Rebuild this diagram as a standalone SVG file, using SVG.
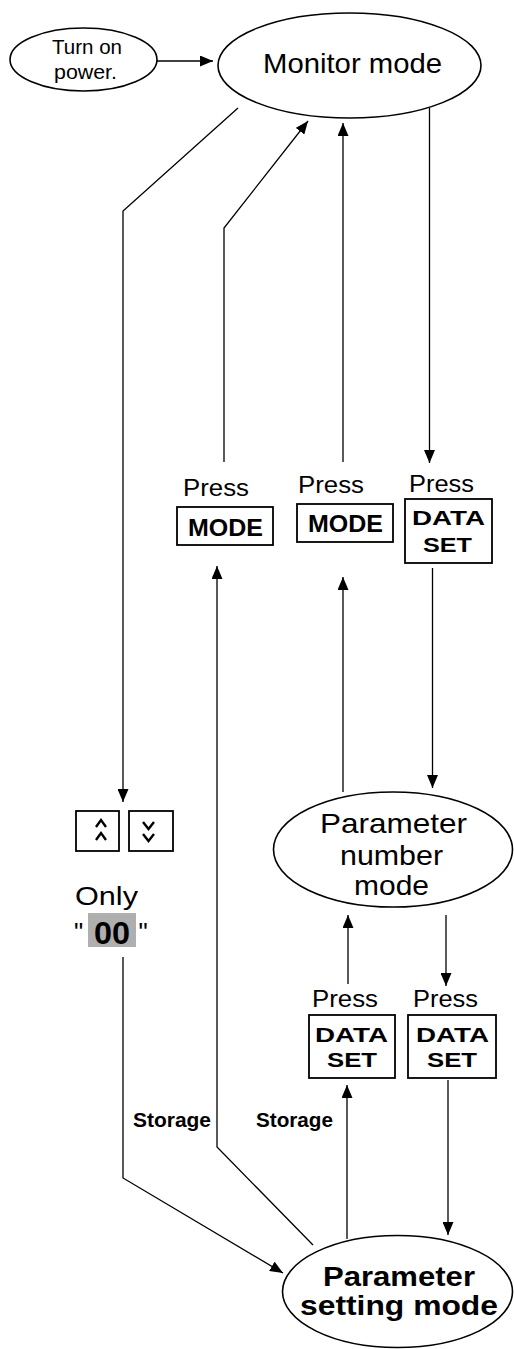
<svg xmlns="http://www.w3.org/2000/svg" width="514" height="1349" viewBox="0 0 514 1349">
<defs>
<marker id="ah" markerUnits="userSpaceOnUse" markerWidth="13" markerHeight="11" refX="13" refY="5.5" orient="auto">
<path d="M0,0 L13,5.5 L0,11 z" fill="#000"/>
</marker>
<style>
.n{fill:#fff;stroke:#000;stroke-width:1.6}
.b{fill:#fff;stroke:#000;stroke-width:1.8}
.c{fill:none;stroke:#000;stroke-width:1.3}
.ca{fill:none;stroke:#000;stroke-width:1.3;marker-end:url(#ah)}
.t{font-family:"Liberation Sans",Arial,sans-serif;fill:#000}
.tb{font-family:"Liberation Sans",Arial,sans-serif;font-weight:bold;fill:#000}
.chev{fill:none;stroke:#000;stroke-width:2.4}
</style>
</defs>
<rect width="514" height="1349" fill="#fff"/>

<g id="connectors">
<line class="ca" x1="157" y1="61" x2="213" y2="61"/>
<polyline class="ca" points="238,108 123,211 123,802"/>
<polyline class="ca" points="224,462 224,228 308,121"/>
<line class="ca" x1="343" y1="462" x2="343" y2="123"/>
<line class="ca" x1="429.5" y1="108" x2="429.5" y2="463"/>
<line class="ca" x1="432.5" y1="568" x2="432.5" y2="788"/>
<line class="ca" x1="343" y1="792" x2="343" y2="577"/>
<line class="ca" x1="348" y1="984" x2="348" y2="915"/>
<line class="ca" x1="446" y1="915" x2="446" y2="986"/>
<line class="ca" x1="347" y1="1239" x2="347" y2="1085"/>
<line class="ca" x1="448" y1="1080" x2="448" y2="1235"/>
<polyline class="ca" points="123,957 123,1178 283,1273"/>
<polyline class="ca" points="313,1245 217,1147 217,566"/>
</g>

<g id="power">
<ellipse class="n" cx="83.5" cy="59.5" rx="73.5" ry="31.5"/>
<text class="t" x="52" y="54" font-size="20.5" textLength="70" lengthAdjust="spacingAndGlyphs">Turn on</text>
<text class="t" x="54" y="79" font-size="20.5" textLength="63" lengthAdjust="spacingAndGlyphs">power.</text>
</g>

<g id="monitor">
<ellipse class="n" cx="349.5" cy="65.5" rx="131.5" ry="52.5"/>
<text class="t" x="263" y="73" font-size="28" textLength="179" lengthAdjust="spacingAndGlyphs">Monitor mode</text>
</g>

<g id="press-mode-1">
<text class="t" x="183" y="496" font-size="23" textLength="66" lengthAdjust="spacingAndGlyphs">Press</text>
<rect class="b" x="177" y="507" width="96" height="38"/>
<text class="tb" x="188" y="536" font-size="23.5" textLength="75" lengthAdjust="spacingAndGlyphs">MODE</text>
</g>

<g id="press-mode-2">
<text class="t" x="298" y="493" font-size="23" textLength="66" lengthAdjust="spacingAndGlyphs">Press</text>
<rect class="b" x="297" y="504" width="96" height="38"/>
<text class="tb" x="308" y="532" font-size="23.5" textLength="75" lengthAdjust="spacingAndGlyphs">MODE</text>
</g>

<g id="press-dataset-1">
<text class="t" x="409" y="492" font-size="23" textLength="65" lengthAdjust="spacingAndGlyphs">Press</text>
<rect class="b" x="405" y="499" width="87" height="64"/>
<text class="tb" x="412" y="525" font-size="20.5" textLength="73" lengthAdjust="spacingAndGlyphs">DATA</text>
<text class="tb" x="423" y="552" font-size="20.5" textLength="49" lengthAdjust="spacingAndGlyphs">SET</text>
</g>

<g id="param-number">
<ellipse class="n" cx="393" cy="849.5" rx="119.5" ry="57.5"/>
<text class="t" x="320" y="833" font-size="28" textLength="147" lengthAdjust="spacingAndGlyphs">Parameter</text>
<text class="t" x="340" y="865" font-size="28" textLength="103" lengthAdjust="spacingAndGlyphs">number</text>
<text class="t" x="354" y="895" font-size="28" textLength="75" lengthAdjust="spacingAndGlyphs">mode</text>
</g>

<g id="keys">
<rect class="b" x="76" y="811" width="43" height="40"/>
<polyline class="chev" points="96,827 101,820 106,827"/>
<polyline class="chev" points="96,840 101,833 106,840"/>
<rect class="b" x="129" y="811" width="44" height="40"/>
<polyline class="chev" points="143,822 148.5,829 154,822"/>
<polyline class="chev" points="143,834 148.5,841 154,834"/>
</g>

<g id="only00">
<text class="t" x="75" y="905" font-size="25" textLength="63" lengthAdjust="spacingAndGlyphs">Only</text>
<rect x="88" y="913" width="48" height="34" fill="#afafaf"/>
<text class="t" x="74" y="941" font-size="26">"</text>
<text class="tb" x="94" y="944" font-size="32" textLength="36" lengthAdjust="spacingAndGlyphs">00</text>
<text class="t" x="138.5" y="941" font-size="26">"</text>
</g>

<g id="press-dataset-2">
<text class="t" x="312" y="1007" font-size="23" textLength="66" lengthAdjust="spacingAndGlyphs">Press</text>
<rect class="b" x="309" y="1015" width="86" height="63"/>
<text class="tb" x="315" y="1042" font-size="20.5" textLength="73" lengthAdjust="spacingAndGlyphs">DATA</text>
<text class="tb" x="327" y="1067" font-size="20.5" textLength="50" lengthAdjust="spacingAndGlyphs">SET</text>
</g>

<g id="press-dataset-3">
<text class="t" x="413" y="1007" font-size="23" textLength="65" lengthAdjust="spacingAndGlyphs">Press</text>
<rect class="b" x="408" y="1015" width="88" height="63"/>
<text class="tb" x="416" y="1042" font-size="20.5" textLength="73" lengthAdjust="spacingAndGlyphs">DATA</text>
<text class="tb" x="427" y="1067" font-size="20.5" textLength="50" lengthAdjust="spacingAndGlyphs">SET</text>
</g>

<g id="storage-labels">
<text class="tb" x="133" y="1127" font-size="19.5" textLength="78" lengthAdjust="spacingAndGlyphs">Storage</text>
<text class="tb" x="256" y="1127" font-size="19.5" textLength="77" lengthAdjust="spacingAndGlyphs">Storage</text>
</g>

<g id="param-setting">
<ellipse class="n" cx="397.5" cy="1291.5" rx="115" ry="56"/>
<text class="tb" x="323" y="1286" font-size="27" textLength="152" lengthAdjust="spacingAndGlyphs">Parameter</text>
<text class="tb" x="300" y="1315" font-size="27" textLength="198" lengthAdjust="spacingAndGlyphs">setting mode</text>
</g>
</svg>
